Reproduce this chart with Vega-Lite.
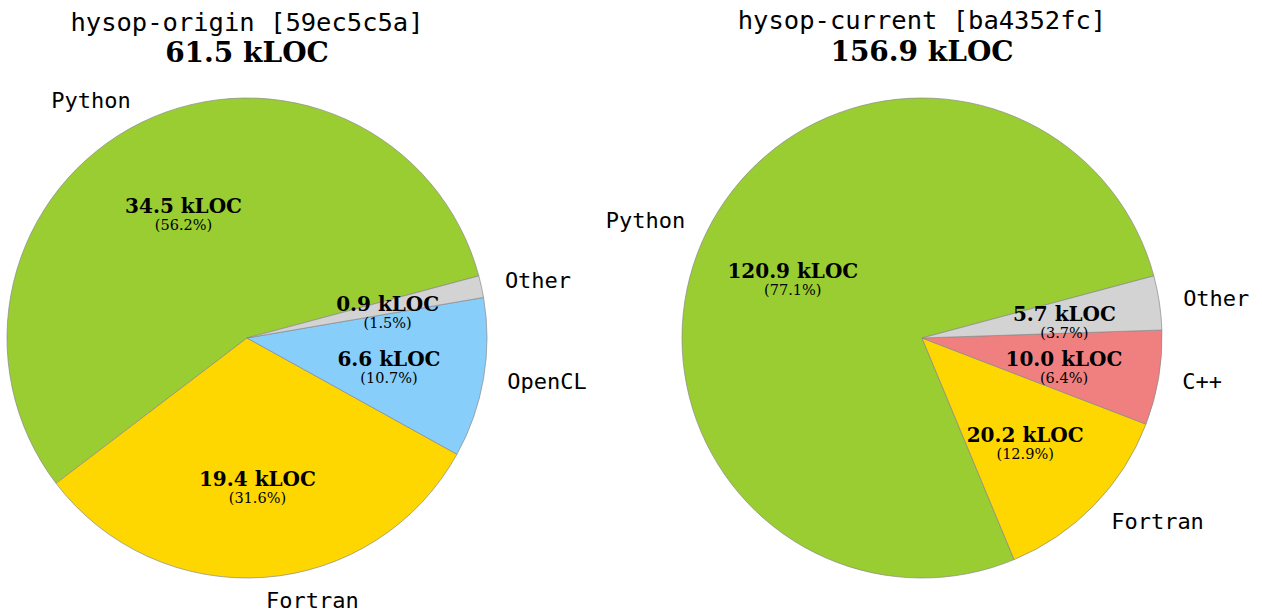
{
  "$schema": "https://vega.github.io/schema/vega-lite/v6.json",
  "background": "white",
  "padding": {"left": 0, "top": 9, "right": 0, "bottom": 0},
  "spacing": 181,
  "bounds": "flush",
  "config": {
    "view": {"stroke": null},
    "title": {
      "font": "DejaVu Sans Mono", "fontSize": 25.5, "fontWeight": "normal", "color": "black",
      "subtitleFont": "DejaVu Serif", "subtitleFontSize": 28, "subtitleFontWeight": "bold", "subtitleColor": "black",
      "anchor": "middle", "frame": "group", "subtitlePadding": 4
    }
  },
  "datasets": {
    "origin": [
      {"lang": "Python", "kloc": 34.5, "label": "34.5 kLOC", "pct": "(56.2%)", "ord": 3},
      {"lang": "Fortran", "kloc": 19.4, "label": "19.4 kLOC", "pct": "(31.6%)", "ord": 2},
      {"lang": "OpenCL", "kloc": 6.6, "label": "6.6 kLOC", "pct": "(10.7%)", "ord": 1},
      {"lang": "Other", "kloc": 0.9, "label": "0.9 kLOC", "pct": "(1.5%)", "ord": 0}
    ],
    "current": [
      {"lang": "Python", "kloc": 120.9, "label": "120.9 kLOC", "pct": "(77.1%)", "ord": 3},
      {"lang": "Fortran", "kloc": 20.2, "label": "20.2 kLOC", "pct": "(12.9%)", "ord": 2},
      {"lang": "C++", "kloc": 10.0, "label": "10.0 kLOC", "pct": "(6.4%)", "ord": 1},
      {"lang": "Other", "kloc": 5.7, "label": "5.7 kLOC", "pct": "(3.7%)", "ord": 0}
    ]
  },
  "hconcat": [
    {
      "title": {"text": "hysop-origin [59ec5c5a]", "subtitle": "61.5 kLOC", "offset": 22},
      "width": 494, "height": 480,
      "data": {"name": "origin"},
      "encoding": {
        "theta": {"field": "kloc", "type": "quantitative", "stack": true, "scale": {"range": [1.309, 7.5922]}},
        "order": {"field": "ord", "type": "quantitative"}
      },
      "layer": [
        {"mark": {"type": "arc", "outerRadius": 240, "stroke": "#8a8a8a", "strokeWidth": 0.7},
         "encoding": {"color": {"field": "lang", "type": "nominal", "legend": null,
           "scale": {"domain": ["Python", "Fortran", "OpenCL", "C++", "Other"], "range": ["#9ACD32", "#FFD700", "#87CEFA", "#F08080", "#D3D3D3"]}}}},
        {"mark": {"type": "text", "radius": 264, "align": "left", "baseline": "middle", "font": "DejaVu Sans Mono", "fontSize": 22, "color": "black"},
         "encoding": {"text": {"condition": {"test": "datum.lang !== 'Python'", "field": "lang"}, "value": ""}}},
        {"mark": {"type": "text", "radius": 264, "align": "right", "baseline": "middle", "font": "DejaVu Sans Mono", "fontSize": 22, "color": "black"},
         "encoding": {"text": {"condition": {"test": "datum.lang === 'Python'", "field": "lang"}, "value": ""}}},
        {"mark": {"type": "text", "radius": 144, "dy": -2, "align": "center", "baseline": "middle", "font": "DejaVu Serif", "fontWeight": "bold", "fontSize": 20, "color": "black"},
         "encoding": {"text": {"field": "label"}}},
        {"mark": {"type": "text", "radius": 144, "dy": 17, "align": "center", "baseline": "middle", "font": "DejaVu Serif", "fontSize": 14.5, "color": "black"},
         "encoding": {"text": {"field": "pct"}}}
      ]
    },
    {
      "title": {"text": "hysop-current [ba4352fc]", "subtitle": "156.9 kLOC", "offset": 30},
      "width": 494, "height": 480,
      "data": {"name": "current"},
      "encoding": {
        "theta": {"field": "kloc", "type": "quantitative", "stack": true, "scale": {"range": [1.309, 7.5922]}},
        "order": {"field": "ord", "type": "quantitative"}
      },
      "layer": [
        {"mark": {"type": "arc", "outerRadius": 240, "stroke": "#8a8a8a", "strokeWidth": 0.7},
         "encoding": {"color": {"field": "lang", "type": "nominal", "legend": null,
           "scale": {"domain": ["Python", "Fortran", "OpenCL", "C++", "Other"], "range": ["#9ACD32", "#FFD700", "#87CEFA", "#F08080", "#D3D3D3"]}}}},
        {"mark": {"type": "text", "radius": 264, "align": "left", "baseline": "middle", "font": "DejaVu Sans Mono", "fontSize": 22, "color": "black"},
         "encoding": {"text": {"condition": {"test": "datum.lang !== 'Python'", "field": "lang"}, "value": ""}}},
        {"mark": {"type": "text", "radius": 264, "align": "right", "baseline": "middle", "font": "DejaVu Sans Mono", "fontSize": 22, "color": "black"},
         "encoding": {"text": {"condition": {"test": "datum.lang === 'Python'", "field": "lang"}, "value": ""}}},
        {"mark": {"type": "text", "radius": 144, "dy": -2, "align": "center", "baseline": "middle", "font": "DejaVu Serif", "fontWeight": "bold", "fontSize": 20, "color": "black"},
         "encoding": {"text": {"field": "label"}}},
        {"mark": {"type": "text", "radius": 144, "dy": 17, "align": "center", "baseline": "middle", "font": "DejaVu Serif", "fontSize": 14.5, "color": "black"},
         "encoding": {"text": {"field": "pct"}}}
      ]
    }
  ]
}
